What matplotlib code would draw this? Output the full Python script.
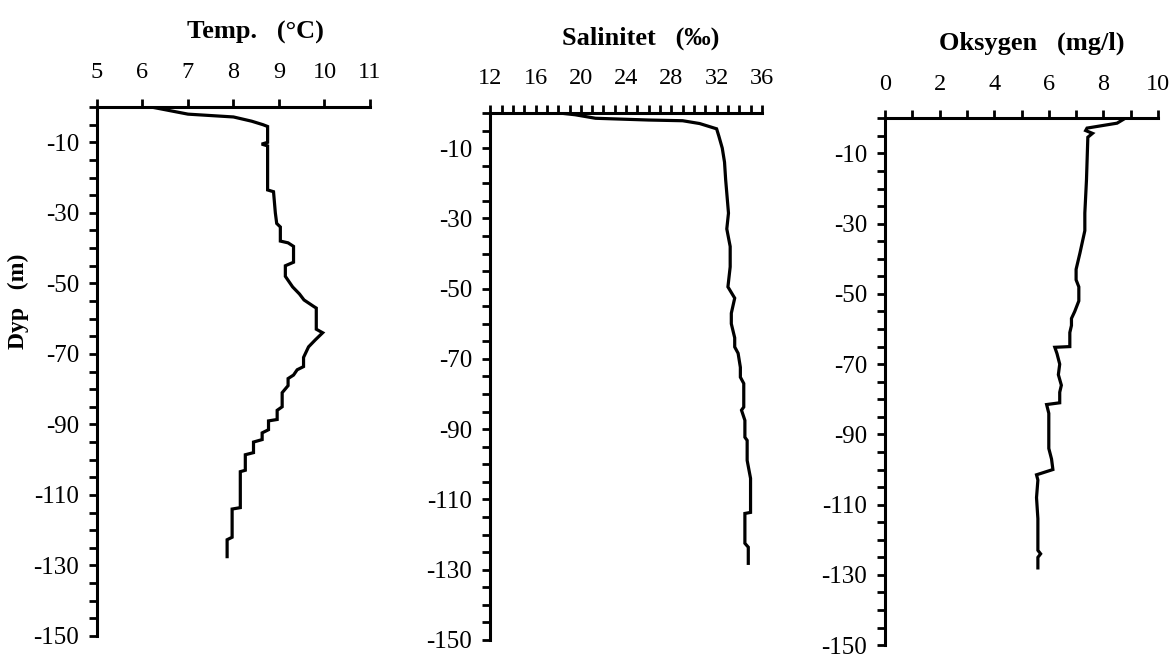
import matplotlib
matplotlib.use("Agg")
import matplotlib.pyplot as plt
import numpy as np

plt.rcParams["font.family"] = ["Liberation Serif", "DejaVu Serif"]
plt.rcParams["axes.unicode_minus"] = False

# Temperatur-profil (dyp i m, temp i grader C)
temp_depth = [0, 1.0, 2.0, 2.8, 4.0, 5.0, 5.5, 10.0, 10.5, 11.0, 23.5, 24.0, 27, 30, 33,
              34, 38, 38.5, 39.5, 44.0, 45, 48, 51, 53, 54.7, 56.6, 57, 63, 64, 66, 68,
              71, 73.6, 74.5, 76, 77, 79, 81, 85, 86, 88.6, 89, 91.5, 92.4, 94.3, 95, 98,
              98.6, 103, 103.4, 113.6, 114, 122, 122.7, 127.5]
temp_val = [6.2, 6.6, 7.0, 8.0, 8.4, 8.65, 8.75, 8.75, 8.62, 8.75, 8.75, 8.88, 8.9, 8.92, 8.95,
            9.03, 9.03, 9.2, 9.32, 9.32, 9.14, 9.14, 9.3, 9.45, 9.55, 9.77, 9.82, 9.82, 9.96, 9.8, 9.65,
            9.54, 9.54, 9.4, 9.32, 9.2, 9.2, 9.07, 9.07, 8.96, 8.96, 8.77, 8.77, 8.63, 8.63, 8.44, 8.44,
            8.26, 8.26, 8.15, 8.15, 7.97, 7.97, 7.86, 7.86]

# Salinitet (promille)
sal_depth = [0, 0.5, 1.0, 1.5, 2.0, 2.2, 3.0, 4.5, 6.6, 10, 14, 19, 28.5, 33, 38, 43.8,
             49.5, 52.7, 57, 60, 64, 66.6, 68.4, 72.4, 75.2, 77, 83.7, 84.6, 87.5, 92.3,
             93.2, 98.9, 104, 113.7, 114, 122.5, 123.6, 128.2]
sal_val = [18.1, 19.5, 20.4, 21.3, 26.0, 29.0, 30.5, 32.0, 32.2, 32.5, 32.7, 32.8, 33.05, 32.9, 33.2, 33.2,
           33.0, 33.6, 33.3, 33.3, 33.6, 33.6, 33.9, 34.1, 34.1, 34.4, 34.4, 34.2, 34.5, 34.5,
           34.7, 34.7, 35.0, 35.0, 34.5, 34.5, 34.8, 34.8]

# Oksygen (mg/l)
oxy_depth = [0, 1.4, 2.8, 3.5, 4.3, 5.4, 17.6, 27, 32, 38.4, 43, 46, 48, 52, 55, 57, 59,
             61, 65, 65.2, 67, 70, 73, 76, 78, 81, 81.5, 84, 94, 97, 100, 101.5, 103, 108,
             114, 123, 124, 125, 128]
oxy_val = [8.8, 8.5, 7.4, 7.35, 7.6, 7.43, 7.38, 7.32, 7.32, 7.14, 7.0, 7.0, 7.1, 7.1, 6.95, 6.83, 6.83,
           6.77, 6.77, 6.22, 6.3, 6.4, 6.35, 6.46, 6.4, 6.4, 5.92, 6.0, 6.0, 6.1, 6.15, 5.55, 5.6, 5.55,
           5.6, 5.6, 5.7, 5.6, 5.6]

titles = ["Temp.   (°C)", "Salinitet   (‰)", "Oksygen   (mg/l)"]
xlims = [(5, 11), (12, 36), (0, 10)]
xlabel_ticks = [np.arange(5, 12, 1), np.arange(12, 37, 4), np.arange(0, 11, 2)]
xminor_ticks = [np.arange(5, 12, 1), np.arange(12, 37, 1), np.arange(0, 11, 1)]
ylabel_ticks = np.arange(-150, 0, 20)
yminor_ticks = np.arange(-150, 1, 5)

profiles = [(temp_val, temp_depth), (sal_val, sal_depth), (oxy_val, oxy_depth)]

fig = plt.figure(figsize=(11.73, 6.57), dpi=100)
boxes = [[0.0827, 0.032, 0.2327, 0.805],
         [0.4180, 0.026, 0.2315, 0.802],
         [0.7545, 0.018, 0.2327, 0.802]]
title_x = [0.579, 0.553, 0.538]

for i in range(3):
    ax = fig.add_axes(boxes[i])
    x, d = profiles[i]
    ax.plot(x, -np.array(d), color="black", lw=2.3, solid_joinstyle="miter")

    ax.set_xlim(*xlims[i])
    ax.set_ylim(-150, 0)
    ax.spines["right"].set_visible(False)
    ax.spines["bottom"].set_visible(False)
    ax.spines["left"].set_linewidth(2.2)
    ax.spines["top"].set_linewidth(2.2)

    ax.xaxis.tick_top()
    ax.set_xticks(xlabel_ticks[i])
    ax.set_xticks(xminor_ticks[i], minor=True)
    ax.set_yticks(ylabel_ticks)
    ax.set_yticks(yminor_ticks, minor=True)
    ax.tick_params(axis="x", which="both", direction="out", length=6, width=2,
                   labelsize=17.5, pad=11)
    ax.tick_params(axis="y", which="both", direction="out", length=6, width=2,
                   labelsize=18, pad=7)

    ax.annotate(titles[i], xy=(title_x[i], 1), xycoords="axes fraction",
                xytext=(0, 54), textcoords="offset points",
                ha="center", va="center", fontsize=19, fontweight="bold")

fig.text(18 / 1173, 1 - 301 / 657, "Dyp   (m)", rotation=90, ha="center", va="center",
         fontsize=17, fontweight="bold")

plt.savefig("out.png", dpi=100)
